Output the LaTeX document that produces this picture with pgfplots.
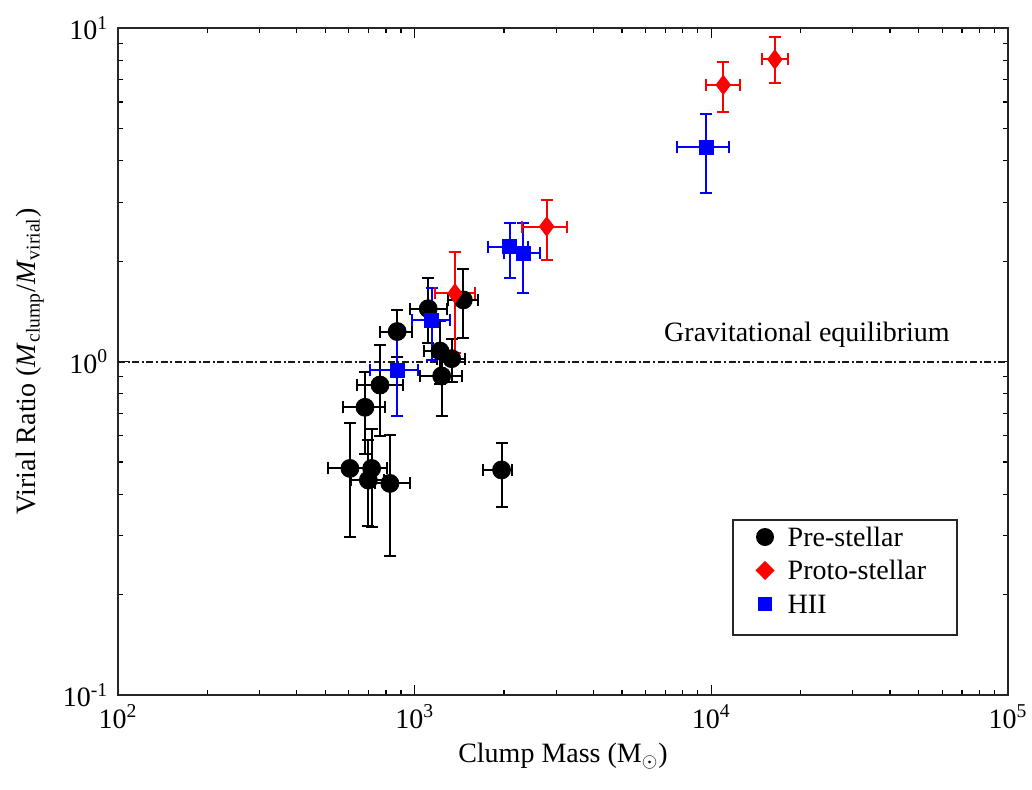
\documentclass[border=0pt]{standalone}
\usepackage{pgfplots}
\pgfplotsset{compat=1.18}
\usepackage{fontspec}
\setmainfont{Liberation Serif}
\begin{document}
\fontsize{14}{16.8}\selectfont
\begin{tikzpicture}
\begin{axis}[
  scale only axis, width=445pt, height=333.5pt,
  xmode=log, ymode=log,
  xmin=100, xmax=100000, ymin=0.1, ymax=10,
  xtick={100,1000,10000,100000},
  xticklabels={10\textsuperscript{2},10\textsuperscript{3},10\textsuperscript{4},10\textsuperscript{5}},
  ytick={0.1,1,10},
  yticklabels={10\textsuperscript{-1},10\textsuperscript{0},10\textsuperscript{1}},
  minor xtick={200,300,400,500,600,700,800,900,2000,3000,4000,5000,6000,7000,8000,9000,20000,30000,40000,50000,60000,70000,80000,90000},
  minor ytick={0.2,0.3,0.4,0.5,0.6,0.7,0.8,0.9,2,3,4,5,6,7,8,9},
  tick align=inside, major tick length=5pt, minor tick length=2.5pt,
  tick style={black, line width=0.6pt},
  axis line style={line width=0.8pt, black!85},
  tick label style={font=\fontsize{14}{16}\selectfont},
  label style={font=\fontsize{14}{16.8}\selectfont},
  xlabel={Clump Mass (M$_\odot$)},
  ylabel={Virial Ratio (\textit{M}\textsubscript{clump}/\textit{M}\textsubscript{virial})},
  xlabel style={yshift=2pt},
  ylabel style={yshift=0pt},
  eb/.style={error bars/x dir=both, error bars/y dir=both, error bars/x explicit, error bars/y explicit,
    error bars/error bar style={line width=1pt},
    error bars/error mark options={rotate=90, mark size=3pt, line width=1pt}},
]
\addplot[black!90, line width=1pt, dash pattern=on 3.5pt off 1.3pt on 1pt off 1.3pt, forget plot] coordinates {(100,1) (100000,1)};

\addplot[eb, only marks, mark=*, black, mark size=4.5pt, forget plot] coordinates {
(873,1.23) += (104,0.2) -= (109,0.2)
(1111,1.44) += (171,0.34) -= (147,0.3)
(1217,1.075) += (150,0.25) -= (140,0.22)
(1333,1.02) += (150,0.15) -= (140,0.15)
(1233,0.905) += (206,0.2) -= (191,0.217)
(764,0.85) += (149,0.27) -= (123,0.25)
(680,0.729) += (114,0.2) -= (108,0.2)
(605,0.478) += (102,0.175) -= (94,0.18)
(716,0.478) += (90,0.15) -= (90,0.16)
(698,0.441) += (90,0.14) -= (90,0.12)
(825,0.431) += (139,0.17) -= (90,0.17)
(1963,0.473) += (159,0.096) -= (261,0.106)
(1459,1.53) += (170,0.37) -= (160,0.35)
};

\addplot[eb, only marks, mark=square*, blue, mark size=3.5pt, forget plot] coordinates {
(873,0.943) += (153,0.272) -= (166,0.255)
(1140,1.33) += (175,0.327) -= (163,0.32)
(2094,2.21) += (316,0.39) -= (323,0.434)
(2323,2.11) += (321,0.49) -= (323,0.51)
(9590,4.39) += (1900,1.13) -= (1920,1.18)
};

\addplot[eb, only marks, mark=diamond*, red, mark size=4.8pt, forget plot] coordinates {
(2786,2.54) += (466,0.51) -= (493,0.53)
(1367,1.60) += (230,0.53) -= (197,0.54)
(10970,6.75) += (1510,1.14) -= (1380,1.14)
(16370,8.05) += (1790,1.35) -= (1610,1.23)
};

\node[font=\fontsize{14}{16.8}\selectfont] at (axis cs:21000,1.2) {Gravitational equilibrium};
\end{axis}
\begin{scope}[shift={(445pt,0pt)}]
\draw[line width=0.8pt, black!85, fill=white] (-137.5pt,30pt) rectangle (-25.5pt,87.5pt);
\fill[black] (-121.5pt,79pt) circle (4.5pt);
\node[anchor=west, font=\fontsize{14}{16.8}\selectfont] at (-115pt,79pt) {Pre-stellar};
\fill[red] (-116.7pt,62.3pt) -- (-121.5pt,67.1pt) -- (-126.3pt,62.3pt) -- (-121.5pt,57.5pt) -- cycle;
\node[anchor=west, font=\fontsize{14}{16.8}\selectfont] at (-115pt,62.3pt) {Proto-stellar};
\fill[blue] (-125pt,42pt) rectangle (-118pt,49pt);
\node[anchor=west, font=\fontsize{14}{16.8}\selectfont] at (-115pt,45.5pt) {HII};
\end{scope}
\pgfresetboundingbox
\path (-59pt,-47pt) rectangle (457pt,347.5pt);
\end{tikzpicture}
\end{document}
